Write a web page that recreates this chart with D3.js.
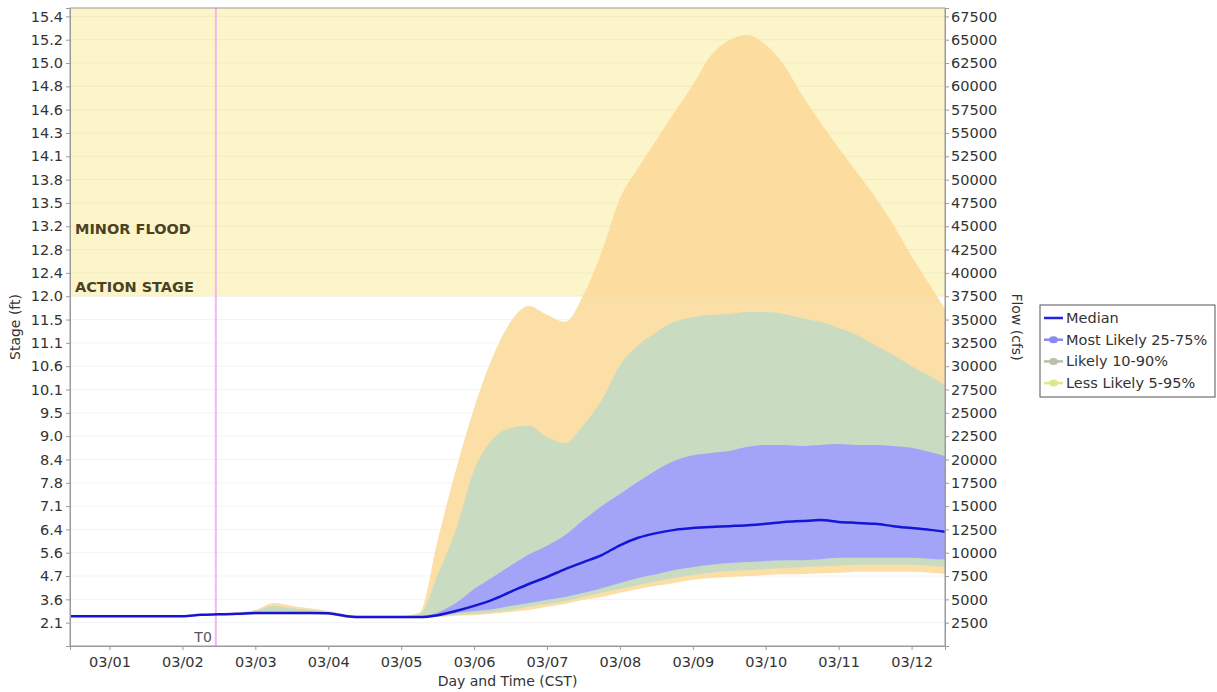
<!DOCTYPE html>
<html>
<head>
<meta charset="utf-8">
<script src="https://cdn.jsdelivr.net/npm/d3@7"></script>
<style>
  body { margin: 0; background: #fff; }
  text { font-family: "DejaVu Sans", sans-serif; }
</style>
</head>
<body>
<svg id="chart" width="1217" height="692"></svg>
<script>
// Observed flow (cfs) up to the forecast start
const obsTimes = ["2019-02-28T11:00Z", "2019-03-01T00:00Z", "2019-03-01T12:00Z",
                  "2019-03-02T00:00Z", "2019-03-02T06:00Z", "2019-03-02T12:00Z"];
const obsFlow = [3200, 3200, 3200, 3200, 3350, 3400];

// Ensemble forecast, 6-hourly
const fcstTimes = [
  "2019-03-02T12:00Z", "2019-03-02T18:00Z",
  "2019-03-03T00:00Z", "2019-03-03T06:00Z", "2019-03-03T12:00Z", "2019-03-03T18:00Z",
  "2019-03-04T00:00Z", "2019-03-04T06:00Z", "2019-03-04T12:00Z", "2019-03-04T18:00Z",
  "2019-03-05T00:00Z", "2019-03-05T06:00Z", "2019-03-05T12:00Z", "2019-03-05T18:00Z",
  "2019-03-06T00:00Z", "2019-03-06T06:00Z", "2019-03-06T12:00Z", "2019-03-06T18:00Z",
  "2019-03-07T00:00Z", "2019-03-07T06:00Z", "2019-03-07T12:00Z", "2019-03-07T18:00Z",
  "2019-03-08T00:00Z", "2019-03-08T06:00Z", "2019-03-08T12:00Z", "2019-03-08T18:00Z",
  "2019-03-09T00:00Z", "2019-03-09T06:00Z", "2019-03-09T12:00Z", "2019-03-09T18:00Z",
  "2019-03-10T00:00Z", "2019-03-10T06:00Z", "2019-03-10T12:00Z", "2019-03-10T18:00Z",
  "2019-03-11T00:00Z", "2019-03-11T06:00Z", "2019-03-11T12:00Z", "2019-03-11T18:00Z",
  "2019-03-12T00:00Z", "2019-03-12T06:00Z", "2019-03-12T12:00Z"
];
const median = [3400, 3450, 3550, 3550, 3550, 3550, 3500, 3200, 3100, 3100, 3100,
  3100, 3300, 3750, 4300, 4950, 5800, 6650, 7400, 8250, 9000, 9750, 10800, 11600, 12100,
  12450, 12650, 12750, 12850, 12950, 13100, 13300, 13400, 13500, 13300, 13200, 13100,
  12850, 12650, 12450, 12200];
const p25 = [3340, 3390, 3490, 3490, 3490, 3490, 3440, 3140, 3040, 3040, 3040,
  3050, 3250, 3550, 3750, 3950, 4300, 4600, 4950, 5250, 5700, 6200, 6750, 7300, 7700,
  8150, 8450, 8700, 8900, 9000, 9100, 9200, 9200, 9300, 9450, 9450, 9450,
  9450, 9450, 9350, 9250];
const p75 = [3460, 3510, 3610, 3610, 3610, 3610, 3560, 3260, 3160, 3160, 3160,
  3200, 3600, 4600, 6100, 7350, 8600, 9800, 10750, 11900, 13500, 15000, 16300, 17600, 18850,
  19850, 20450, 20700, 20900, 21350, 21550, 21550, 21450, 21550, 21650, 21550, 21550,
  21450, 21250, 20800, 20250];
const p10 = [3290, 3340, 3440, 3440, 3440, 3440, 3390, 3090, 2990, 2990, 2990,
  3000, 3150, 3350, 3450, 3650, 3850, 4200, 4500, 4800, 5250, 5700, 6100, 6550, 6950,
  7300, 7600, 7850, 8050, 8150, 8250, 8350, 8450, 8550, 8600, 8700, 8700,
  8700, 8700, 8600, 8450];
const p90 = [3450, 3550, 3800, 4300, 4050, 3850, 3650, 3300, 3200, 3200, 3200,
  3400, 7600, 12450, 18850, 22100, 23350, 23600, 22400, 21750, 23700, 26350, 30100, 32250, 33650,
  34750, 35250, 35500, 35600, 35800, 35800, 35600, 35150, 34750, 34100, 33350, 32250,
  31200, 30000, 28950, 27750];
const p5 = [3240, 3290, 3390, 3390, 3390, 3390, 3340, 3040, 2940, 2940, 2940,
  2950, 3100, 3250, 3300, 3450, 3650, 3850, 4200, 4500, 4950, 5250, 5700, 6100, 6450,
  6750, 7100, 7300, 7400, 7500, 7600, 7700, 7700, 7800, 7850, 7950, 7950,
  7950, 7950, 7850, 7700];
const p95 = [3500, 3600, 3850, 4600, 4300, 4050, 3750, 3400, 3250, 3250, 3250,
  3600, 11350, 18850, 25500, 30900, 34750, 36450, 35500, 34750, 37650, 42250, 48000, 51250, 54250,
  57250, 60150, 63350, 64950, 65500, 64450, 62300, 59050, 56150, 53400, 50800, 48150,
  45150, 41800, 38700, 35600];

// Axis ticks: flow (right) and the matching stage labels (left)
const flowTicks = [2500, 5000, 7500, 10000, 12500, 15000, 17500, 20000, 22500, 25000,
  27500, 30000, 32500, 35000, 37500, 40000, 42500, 45000, 47500, 50000, 52500, 55000,
  57500, 60000, 62500, 65000, 67500];
const stageLabels = ["2.1", "3.6", "4.7", "5.6", "6.4", "7.1", "7.8", "8.4", "9.0", "9.5",
  "10.1", "10.6", "11.1", "11.5", "12.0", "12.4", "12.8", "13.2", "13.5", "13.8", "14.1", "14.3",
  "14.6", "14.8", "15.0", "15.2", "15.4"];
const dayTicks = ["2019-03-01", "2019-03-02", "2019-03-03", "2019-03-04", "2019-03-05",
  "2019-03-06", "2019-03-07", "2019-03-08", "2019-03-09", "2019-03-10", "2019-03-11", "2019-03-12"];

// Flood categories (flow at threshold)
const categoryNames = ["ACTION STAGE", "MINOR FLOOD"];
const categoryFlows = [37500, 43700];

const t0Time = "2019-03-02T11:00Z";
const timeDomain = ["2019-02-28T11:00Z", "2019-03-12T11:00Z"];
const flowMax = 68400;

const legendNames = ["Median", "Most Likely 25-75%", "Likely 10-90%", "Less Likely 5-95%"];
const legendColors = ["#2222e6", "#8a8af2", "#b6c2aa", "#e0e88c"];

// ---------------------------------------------------------------
const svg = d3.select("#chart");
const plot = { left: 70, right: 945, top: 8, bottom: 646 };
const FONT = 14.5;
const TEXT = "#333";

const x = d3.scaleUtc().domain(timeDomain.map(d => new Date(d))).range([plot.left, plot.right]);
const y = d3.scaleLinear().domain([0, flowMax]).range([plot.bottom, plot.top]);

svg.append("defs").append("clipPath").attr("id", "plotClip")
  .append("rect").attr("x", plot.left).attr("y", plot.top)
  .attr("width", plot.right - plot.left).attr("height", plot.bottom - plot.top);

const g = svg.append("g").attr("clip-path", "url(#plotClip)");

// Flood category band
g.append("rect")
  .attr("x", plot.left).attr("width", plot.right - plot.left)
  .attr("y", plot.top).attr("height", y(categoryFlows[0]) - plot.top)
  .attr("fill", "#fdf5ca");

// Horizontal grid
g.selectAll("line.grid").data(flowTicks).enter().append("line")
  .attr("class", "grid")
  .attr("x1", plot.left).attr("x2", plot.right)
  .attr("y1", d => y(d)).attr("y2", d => y(d))
  .attr("stroke", "rgba(0,0,0,0.05)").attr("stroke-width", 1);

const fc = fcstTimes.map((t, i) => ({
  t: new Date(t), med: median[i], p5: p5[i], p95: p95[i],
  p10: p10[i], p90: p90[i], p25: p25[i], p75: p75[i]
}));

function band(lo, hi) {
  return d3.area().x(d => x(d.t)).y0(d => y(d[lo])).y1(d => y(d[hi])).curve(d3.curveMonotoneX);
}

g.append("path").datum(fc).attr("d", band("p5", "p95"))
  .attr("fill", "#fcd898").attr("fill-opacity", 0.85);
g.append("path").datum(fc).attr("d", band("p10", "p90"))
  .attr("fill", "#c9dcc1");
g.append("path").datum(fc).attr("d", band("p25", "p75"))
  .attr("fill", "#a3a3f8");

// T0 marker
g.append("line")
  .attr("x1", x(new Date(t0Time))).attr("x2", x(new Date(t0Time)))
  .attr("y1", plot.top).attr("y2", plot.bottom)
  .attr("stroke", "#f2b6f2").attr("stroke-width", 2);

// Median line: observed then forecast
const obs = obsTimes.map((t, i) => ({ t: new Date(t), v: obsFlow[i] }));
const medSeries = obs.concat(fc.slice(1).map(d => ({ t: d.t, v: d.med })));
g.append("path").datum(medSeries)
  .attr("d", d3.line().x(d => x(d.t)).y(d => y(d.v)).curve(d3.curveMonotoneX))
  .attr("fill", "none").attr("stroke", "#1515d8").attr("stroke-width", 2.5);

// Category labels
svg.selectAll("text.cat").data(categoryNames).enter().append("text")
  .attr("class", "cat")
  .attr("x", plot.left + 5)
  .attr("y", (d, i) => y(categoryFlows[i]) - 4)
  .attr("fill", "#4b4226").attr("font-weight", "bold").attr("font-size", FONT)
  .text(d => d);

svg.append("text")
  .attr("x", x(new Date(t0Time)) - 4).attr("y", plot.bottom - 4)
  .attr("text-anchor", "end").attr("fill", "#555").attr("font-size", 14)
  .text("T0");

// Frame
svg.append("rect")
  .attr("x", plot.left).attr("y", plot.top)
  .attr("width", plot.right - plot.left).attr("height", plot.bottom - plot.top)
  .attr("fill", "none").attr("stroke", "#9a9a9a").attr("stroke-width", 1);

function styleAxis(sel) {
  sel.select(".domain").attr("stroke", "#9a9a9a");
  sel.selectAll(".tick line").attr("stroke", "#9a9a9a");
  sel.selectAll(".tick text").attr("fill", TEXT).attr("font-size", FONT)
    .attr("font-family", "DejaVu Sans, sans-serif");
}

svg.append("g").attr("transform", `translate(${plot.left},0)`)
  .call(d3.axisLeft(y).tickValues(flowTicks).tickSize(4).tickPadding(3)
    .tickFormat((d, i) => stageLabels[i]))
  .call(styleAxis);

svg.append("g").attr("transform", `translate(${plot.right},0)`)
  .call(d3.axisRight(y).tickValues(flowTicks).tickSize(4).tickPadding(2)
    .tickFormat(d3.format("d")))
  .call(styleAxis);

svg.append("g").attr("transform", `translate(0,${plot.bottom})`)
  .call(d3.axisBottom(x).tickValues(dayTicks.map(d => new Date(d + "T00:00Z")))
    .tickSize(4).tickPadding(7).tickFormat(d3.utcFormat("%m/%d")))
  .call(styleAxis);

// Axis titles
svg.append("text")
  .attr("x", (plot.left + plot.right) / 2).attr("y", 686)
  .attr("text-anchor", "middle").attr("fill", TEXT).attr("font-size", 14)
  .text("Day and Time (CST)");
svg.append("text")
  .attr("transform", `translate(20,${(plot.top + plot.bottom) / 2}) rotate(-90)`)
  .attr("text-anchor", "middle").attr("fill", TEXT).attr("font-size", 14)
  .text("Stage (ft)");
svg.append("text")
  .attr("transform", `translate(1012,${(plot.top + plot.bottom) / 2}) rotate(90)`)
  .attr("text-anchor", "middle").attr("fill", TEXT).attr("font-size", 14)
  .text("Flow (cfs)");

// Legend
const lg = svg.append("g").attr("transform", "translate(1040,305)");
lg.append("rect").attr("width", 175).attr("height", 92)
  .attr("fill", "#fff").attr("stroke", "#555").attr("stroke-width", 1);
const items = lg.selectAll("g.item").data(legendNames).enter().append("g")
  .attr("class", "item")
  .attr("transform", (d, i) => `translate(0,${13 + i * 21.7})`);
items.append("line").attr("x1", 4).attr("x2", 23).attr("y1", 0).attr("y2", 0)
  .attr("stroke", (d, i) => legendColors[i]).attr("stroke-width", 2.5);
items.filter((d, i) => i > 0).append("ellipse")
  .attr("cx", 13.5).attr("cy", 0).attr("rx", 4.5).attr("ry", 3.5)
  .attr("fill", (d, i) => legendColors[i + 1]);
items.append("text").attr("x", 26).attr("y", 5)
  .attr("fill", TEXT).attr("font-size", FONT).text(d => d);
</script>
</body>
</html>
